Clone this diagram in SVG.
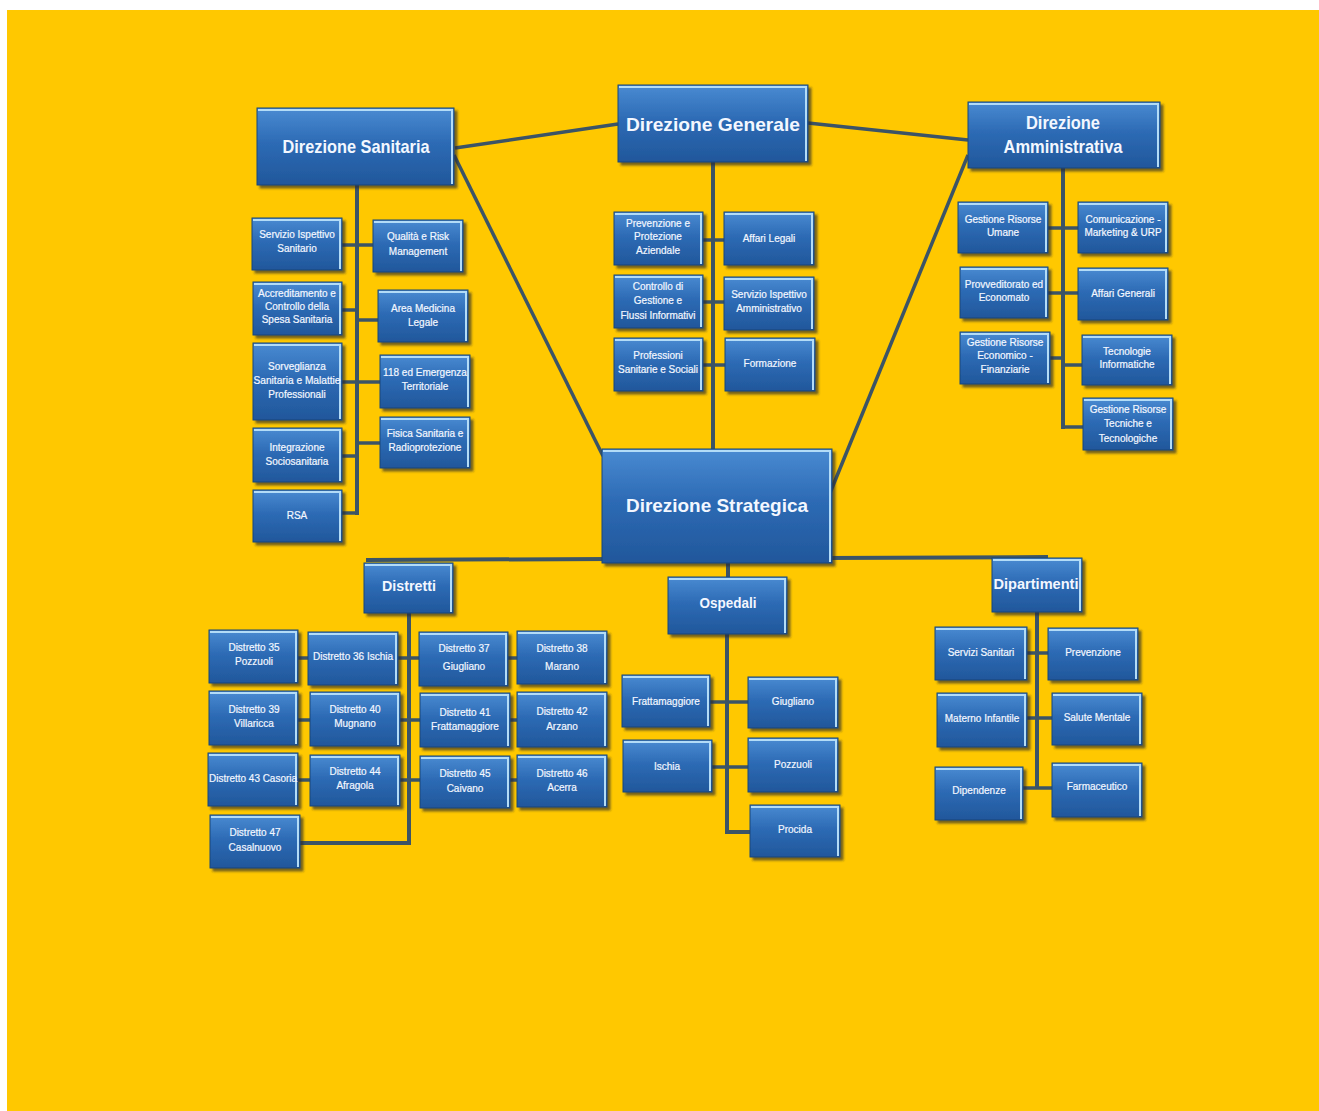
<svg xmlns="http://www.w3.org/2000/svg" width="1319" height="1111" viewBox="0 0 1319 1111">
<defs>
<linearGradient id="bg" x1="0" y1="0" x2="0" y2="1">
<stop offset="0" stop-color="#4a8bd2"/>
<stop offset="0.45" stop-color="#2d6bb5"/>
<stop offset="1" stop-color="#21579b"/>
</linearGradient>
<filter id="ds" x="-10%" y="-10%" width="130%" height="140%">
<feDropShadow dx="3" dy="3" stdDeviation="1.2" flood-color="#2a2a2a" flood-opacity="0.65"/>
</filter>
<style>
.bx{fill:url(#bg);stroke:#1b4679;stroke-width:1;filter:url(#ds)}
.hl{fill:none;stroke:#b3dcf7;stroke-width:2}
.ln{stroke:#3c5466;stroke-width:4;fill:none}
.st{stroke:#3c5466;stroke-width:3.5;fill:none}
.dg{stroke:#3c5466;stroke-width:3.5;fill:none}
text{font-family:"Liberation Sans",Arial,sans-serif;fill:#f3f7ff;text-anchor:middle}
.s{font-size:10px;stroke:#f3f7ff;stroke-width:0.2}
.h{font-size:19px;font-weight:bold}
.m{font-size:15px;font-weight:bold}
</style>
</defs>
<rect x="0" y="0" width="1319" height="1111" fill="#ffffff"/>
<rect x="7" y="10" width="1312" height="1101" fill="#ffc800"/>

<g id="connectors">
<line class="dg" x1="455" y1="148" x2="618" y2="124"/>
<line class="dg" x1="808" y1="123" x2="968" y2="140"/>
<line class="dg" x1="454" y1="155" x2="603" y2="456"/>
<line class="dg" x1="968" y1="155" x2="830" y2="493"/>
<line class="ln" x1="713" y1="162" x2="713" y2="449"/>
<line class="ln" x1="357" y1="185" x2="357" y2="515"/>
<line class="st" x1="342" y1="245" x2="373" y2="245"/>
<line class="st" x1="342" y1="310" x2="357" y2="310"/>
<line class="st" x1="357" y1="320" x2="378" y2="320"/>
<line class="st" x1="342" y1="382" x2="380" y2="382"/>
<line class="st" x1="357" y1="443" x2="380" y2="443"/>
<line class="st" x1="342" y1="456" x2="357" y2="456"/>
<line class="st" x1="342" y1="513" x2="359" y2="513"/>
<line class="st" x1="703" y1="240" x2="724" y2="240"/>
<line class="st" x1="703" y1="302" x2="724" y2="302"/>
<line class="st" x1="703" y1="365" x2="725" y2="365"/>
<line class="ln" x1="1063" y1="168" x2="1063" y2="429"/>
<line class="st" x1="1048" y1="228" x2="1078" y2="228"/>
<line class="st" x1="1048" y1="293" x2="1078" y2="293"/>
<line class="st" x1="1050" y1="358" x2="1063" y2="358"/>
<line class="st" x1="1063" y1="365" x2="1082" y2="365"/>
<line class="st" x1="1061" y1="427" x2="1083" y2="427"/>
<line class="ln" x1="366" y1="560" x2="1048" y2="557"/>
<line class="ln" x1="728" y1="563" x2="728" y2="578"/>
<path class="ln" d="M409 613 V843 H300"/>
<line class="st" x1="298" y1="658" x2="308" y2="658"/>
<line class="st" x1="398" y1="658" x2="420" y2="658"/>
<line class="st" x1="508" y1="658" x2="517" y2="658"/>
<line class="st" x1="298" y1="720" x2="310" y2="720"/>
<line class="st" x1="400" y1="720" x2="420" y2="720"/>
<line class="st" x1="510" y1="720" x2="517" y2="720"/>
<line class="st" x1="298" y1="780" x2="310" y2="780"/>
<line class="st" x1="400" y1="780" x2="420" y2="780"/>
<line class="st" x1="510" y1="780" x2="517" y2="780"/>
<path class="ln" d="M727 634 V832 H750"/>
<line class="st" x1="710" y1="702" x2="748" y2="702"/>
<line class="st" x1="712" y1="767" x2="748" y2="767"/>
<path class="ln" d="M1037 612 V788"/>
<line class="st" x1="1027" y1="653" x2="1048" y2="653"/>
<line class="st" x1="1027" y1="718" x2="1052" y2="718"/>
<line class="st" x1="1023" y1="788" x2="1052" y2="788"/>
</g>

<g id="direzione-sanitaria"><rect class="bx" x="257" y="108" width="197" height="77"/><path class="hl" d="M258 110 H452 V184"/><text class="h" x="356" y="153" textLength="147" lengthAdjust="spacingAndGlyphs">Direzione Sanitaria</text></g>
<g id="direzione-generale"><rect class="bx" x="618" y="85" width="190" height="77"/><path class="hl" d="M619 87 H806 V161"/><text class="h" x="713" y="131" font-size="22" textLength="174" lengthAdjust="spacingAndGlyphs">Direzione Generale</text></g>
<g id="direzione-amministrativa"><rect class="bx" x="968" y="102" width="192" height="66"/><path class="hl" d="M969 104 H1158 V167"/><text class="h" x="1063" y="129" font-size="18" textLength="74" lengthAdjust="spacingAndGlyphs">Direzione</text><text class="h" x="1063" y="153" font-size="18" textLength="119" lengthAdjust="spacingAndGlyphs">Amministrativa</text></g>
<g id="direzione-strategica"><rect class="bx" x="602" y="449" width="230" height="114"/><path class="hl" d="M603 451 H830 V562"/><text class="h" x="717" y="512" font-size="21" textLength="182" lengthAdjust="spacingAndGlyphs">Direzione Strategica</text></g>
<g id="distretti"><rect class="bx" x="364" y="563" width="89" height="50"/><path class="hl" d="M365 565 H451 V612"/><text class="m" x="409" y="591" textLength="54" lengthAdjust="spacingAndGlyphs">Distretti</text></g>
<g id="ospedali"><rect class="bx" x="668" y="577" width="119" height="57"/><path class="hl" d="M669 579 H785 V633"/><text class="m" x="728" y="608" textLength="57" lengthAdjust="spacingAndGlyphs">Ospedali</text></g>
<g id="dipartimenti"><rect class="bx" x="992" y="558" width="90" height="54"/><path class="hl" d="M993 560 H1080 V611"/><text class="m" x="1036" y="589" textLength="85" lengthAdjust="spacingAndGlyphs">Dipartimenti</text></g>

<g id="servizio-ispettivo-sanitario"><rect class="bx" x="252" y="218" width="90" height="52"/><path class="hl" d="M253 220 H340 V269"/><text class="s" x="297" y="238">Servizio Ispettivo</text><text class="s" x="297" y="252">Sanitario</text></g>
<g id="qualita-risk"><rect class="bx" x="373" y="220" width="90" height="52"/><path class="hl" d="M374 222 H461 V271"/><text class="s" x="418" y="240">Qualità e Risk</text><text class="s" x="418" y="255">Management</text></g>
<g id="accreditamento"><rect class="bx" x="253" y="282" width="89" height="53"/><path class="hl" d="M254 284 H340 V334"/><text class="s" x="297" y="297">Accreditamento e</text><text class="s" x="297" y="310">Controllo della</text><text class="s" x="297" y="323">Spesa Sanitaria</text></g>
<g id="area-medicina-legale"><rect class="bx" x="378" y="290" width="90" height="52"/><path class="hl" d="M379 292 H466 V341"/><text class="s" x="423" y="312">Area Medicina</text><text class="s" x="423" y="326">Legale</text></g>
<g id="sorveglianza"><rect class="bx" x="253" y="343" width="89" height="77"/><path class="hl" d="M254 345 H340 V419"/><text class="s" x="297" y="370">Sorveglianza</text><text class="s" x="297" y="384" textLength="87" lengthAdjust="spacingAndGlyphs">Sanitaria e Malattie</text><text class="s" x="297" y="398">Professionali</text></g>
<g id="emergenza-118"><rect class="bx" x="380" y="355" width="90" height="53"/><path class="hl" d="M381 357 H468 V407"/><text class="s" x="425" y="376">118 ed Emergenza</text><text class="s" x="425" y="390">Territoriale</text></g>
<g id="fisica-sanitaria"><rect class="bx" x="380" y="417" width="90" height="51"/><path class="hl" d="M381 419 H468 V467"/><text class="s" x="425" y="437">Fisica Sanitaria e</text><text class="s" x="425" y="451">Radioprotezione</text></g>
<g id="integrazione"><rect class="bx" x="253" y="428" width="89" height="54"/><path class="hl" d="M254 430 H340 V481"/><text class="s" x="297" y="451">Integrazione</text><text class="s" x="297" y="465">Sociosanitaria</text></g>
<g id="rsa"><rect class="bx" x="253" y="490" width="89" height="52"/><path class="hl" d="M254 492 H340 V541"/><text class="s" x="297" y="519">RSA</text></g>

<g id="prevenzione-protezione"><rect class="bx" x="614" y="212" width="89" height="53"/><path class="hl" d="M615 214 H701 V264"/><text class="s" x="658" y="227">Prevenzione e</text><text class="s" x="658" y="240">Protezione</text><text class="s" x="658" y="254">Aziendale</text></g>
<g id="affari-legali"><rect class="bx" x="724" y="212" width="90" height="53"/><path class="hl" d="M725 214 H812 V264"/><text class="s" x="769" y="242">Affari Legali</text></g>
<g id="controllo-gestione"><rect class="bx" x="614" y="275" width="89" height="53"/><path class="hl" d="M615 277 H701 V327"/><text class="s" x="658" y="290">Controllo di</text><text class="s" x="658" y="304">Gestione e</text><text class="s" x="658" y="319">Flussi  Informativi</text></g>
<g id="servizio-ispettivo-amm"><rect class="bx" x="724" y="277" width="90" height="53"/><path class="hl" d="M725 279 H812 V329"/><text class="s" x="769" y="298">Servizio Ispettivo</text><text class="s" x="769" y="312">Amministrativo</text></g>
<g id="professioni"><rect class="bx" x="614" y="338" width="89" height="53"/><path class="hl" d="M615 340 H701 V390"/><text class="s" x="658" y="359">Professioni</text><text class="s" x="658" y="373">Sanitarie e Sociali</text></g>
<g id="formazione"><rect class="bx" x="725" y="338" width="90" height="53"/><path class="hl" d="M726 340 H813 V390"/><text class="s" x="770" y="367">Formazione</text></g>

<g id="risorse-umane"><rect class="bx" x="958" y="202" width="90" height="51"/><path class="hl" d="M959 204 H1046 V252"/><text class="s" x="1003" y="223">Gestione Risorse</text><text class="s" x="1003" y="236">Umane</text></g>
<g id="comunicazione"><rect class="bx" x="1078" y="202" width="90" height="51"/><path class="hl" d="M1079 204 H1166 V252"/><text class="s" x="1123" y="223">Comunicazione -</text><text class="s" x="1123" y="236">Marketing &amp; URP</text></g>
<g id="provveditorato"><rect class="bx" x="960" y="267" width="88" height="51"/><path class="hl" d="M961 269 H1046 V317"/><text class="s" x="1004" y="288">Provveditorato ed</text><text class="s" x="1004" y="301">Economato</text></g>
<g id="affari-generali"><rect class="bx" x="1078" y="268" width="90" height="52"/><path class="hl" d="M1079 270 H1166 V319"/><text class="s" x="1123" y="297">Affari Generali</text></g>
<g id="risorse-economico"><rect class="bx" x="960" y="332" width="90" height="52"/><path class="hl" d="M961 334 H1048 V383"/><text class="s" x="1005" y="346">Gestione Risorse</text><text class="s" x="1005" y="359">Economico -</text><text class="s" x="1005" y="373">Finanziarie</text></g>
<g id="tecnologie-informatiche"><rect class="bx" x="1082" y="335" width="90" height="50"/><path class="hl" d="M1083 337 H1170 V384"/><text class="s" x="1127" y="355">Tecnologie</text><text class="s" x="1127" y="368">Informatiche</text></g>
<g id="risorse-tecniche"><rect class="bx" x="1083" y="398" width="90" height="52"/><path class="hl" d="M1084 400 H1171 V449"/><text class="s" x="1128" y="413">Gestione Risorse</text><text class="s" x="1128" y="427">Tecniche e</text><text class="s" x="1128" y="442">Tecnologiche</text></g>

<g id="d35"><rect class="bx" x="209" y="630" width="89" height="53"/><path class="hl" d="M210 632 H296 V682"/><text class="s" x="254" y="651">Distretto 35</text><text class="s" x="254" y="665">Pozzuoli</text></g>
<g id="d36"><rect class="bx" x="308" y="632" width="90" height="53"/><path class="hl" d="M309 634 H396 V684"/><text class="s" x="353" y="660">Distretto 36 Ischia</text></g>
<g id="d37"><rect class="bx" x="419" y="632" width="89" height="54"/><path class="hl" d="M420 634 H506 V685"/><text class="s" x="464" y="652">Distretto 37</text><text class="s" x="464" y="670">Giugliano</text></g>
<g id="d38"><rect class="bx" x="517" y="631" width="90" height="53"/><path class="hl" d="M518 633 H605 V683"/><text class="s" x="562" y="652">Distretto 38</text><text class="s" x="562" y="670">Marano</text></g>
<g id="d39"><rect class="bx" x="209" y="691" width="89" height="54"/><path class="hl" d="M210 693 H296 V744"/><text class="s" x="254" y="713">Distretto 39</text><text class="s" x="254" y="727">Villaricca</text></g>
<g id="d40"><rect class="bx" x="310" y="692" width="90" height="54"/><path class="hl" d="M311 694 H398 V745"/><text class="s" x="355" y="713">Distretto 40</text><text class="s" x="355" y="727">Mugnano</text></g>
<g id="d41"><rect class="bx" x="420" y="693" width="90" height="54"/><path class="hl" d="M421 695 H508 V746"/><text class="s" x="465" y="716">Distretto 41</text><text class="s" x="465" y="730">Frattamaggiore</text></g>
<g id="d42"><rect class="bx" x="517" y="692" width="90" height="55"/><path class="hl" d="M518 694 H605 V746"/><text class="s" x="562" y="715">Distretto 42</text><text class="s" x="562" y="730">Arzano</text></g>
<g id="d43"><rect class="bx" x="208" y="753" width="90" height="53"/><path class="hl" d="M209 755 H296 V805"/><text class="s" x="253" y="782" textLength="88" lengthAdjust="spacingAndGlyphs">Distretto 43 Casoria</text></g>
<g id="d44"><rect class="bx" x="310" y="755" width="90" height="51"/><path class="hl" d="M311 757 H398 V805"/><text class="s" x="355" y="775">Distretto 44</text><text class="s" x="355" y="789">Afragola</text></g>
<g id="d45"><rect class="bx" x="420" y="756" width="90" height="52"/><path class="hl" d="M421 758 H508 V807"/><text class="s" x="465" y="777">Distretto 45</text><text class="s" x="465" y="792">Caivano</text></g>
<g id="d46"><rect class="bx" x="517" y="755" width="90" height="52"/><path class="hl" d="M518 757 H605 V806"/><text class="s" x="562" y="777">Distretto 46</text><text class="s" x="562" y="791">Acerra</text></g>
<g id="d47"><rect class="bx" x="210" y="815" width="90" height="53"/><path class="hl" d="M211 817 H298 V867"/><text class="s" x="255" y="836">Distretto 47</text><text class="s" x="255" y="851">Casalnuovo</text></g>

<g id="o-frattamaggiore"><rect class="bx" x="622" y="675" width="88" height="52"/><path class="hl" d="M623 677 H708 V726"/><text class="s" x="666" y="705">Frattamaggiore</text></g>
<g id="o-giugliano"><rect class="bx" x="748" y="677" width="90" height="51"/><path class="hl" d="M749 679 H836 V727"/><text class="s" x="793" y="705">Giugliano</text></g>
<g id="o-ischia"><rect class="bx" x="623" y="740" width="89" height="52"/><path class="hl" d="M624 742 H710 V791"/><text class="s" x="667" y="770">Ischia</text></g>
<g id="o-pozzuoli"><rect class="bx" x="748" y="738" width="90" height="54"/><path class="hl" d="M749 740 H836 V791"/><text class="s" x="793" y="768">Pozzuoli</text></g>
<g id="o-procida"><rect class="bx" x="750" y="805" width="90" height="52"/><path class="hl" d="M751 807 H838 V856"/><text class="s" x="795" y="833">Procida</text></g>

<g id="servizi-sanitari"><rect class="bx" x="935" y="627" width="92" height="53"/><path class="hl" d="M936 629 H1025 V679"/><text class="s" x="981" y="656">Servizi Sanitari</text></g>
<g id="prevenzione"><rect class="bx" x="1048" y="628" width="90" height="52"/><path class="hl" d="M1049 630 H1136 V679"/><text class="s" x="1093" y="656">Prevenzione</text></g>
<g id="materno-infantile"><rect class="bx" x="937" y="693" width="90" height="54"/><path class="hl" d="M938 695 H1025 V746"/><text class="s" x="982" y="722">Materno Infantile</text></g>
<g id="salute-mentale"><rect class="bx" x="1052" y="693" width="90" height="52"/><path class="hl" d="M1053 695 H1140 V744"/><text class="s" x="1097" y="721">Salute Mentale</text></g>
<g id="dipendenze"><rect class="bx" x="935" y="767" width="88" height="53"/><path class="hl" d="M936 769 H1021 V819"/><text class="s" x="979" y="794">Dipendenze</text></g>
<g id="farmaceutico"><rect class="bx" x="1052" y="763" width="90" height="54"/><path class="hl" d="M1053 765 H1140 V816"/><text class="s" x="1097" y="790">Farmaceutico</text></g>
</svg>
